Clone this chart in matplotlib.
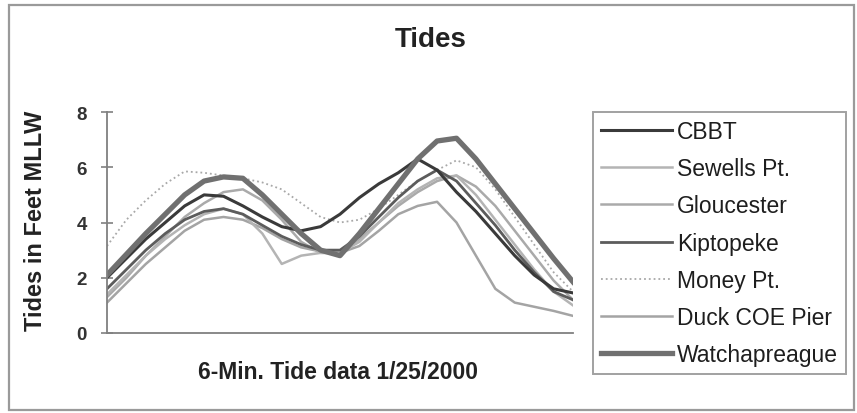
import matplotlib
matplotlib.use("Agg")
import matplotlib.pyplot as plt
from matplotlib.patches import Rectangle

plt.rcParams['font.family'] = ['Liberation Sans', 'DejaVu Sans']

# hours of 1/25/2000 (readings taken roughly once per hour from the 6-min series)
hours = list(range(25))

cbbt = [2.0, 2.7, 3.4, 4.0, 4.6, 5.0, 4.95, 4.6, 4.2, 3.85, 3.7, 3.85, 4.3,
        4.9, 5.4, 5.8, 6.3, 5.9, 5.1, 4.4, 3.6, 2.8, 2.1, 1.6, 1.45]
sewells = [1.4, 2.1, 2.8, 3.4, 3.9, 4.3, 4.5, 4.3, 3.6, 2.5, 2.8, 2.9, 2.9,
           3.3, 4.0, 4.7, 5.2, 5.6, 5.7, 5.0, 4.1, 3.2, 2.3, 1.5, 1.0]
gloucester = [1.3, 2.0, 2.8, 3.5, 4.2, 4.7, 5.1, 5.2, 4.8, 4.1, 3.3, 2.9, 2.9,
              3.4, 4.0, 4.6, 5.1, 5.5, 5.7, 5.3, 4.6, 3.7, 2.8, 1.9, 1.2]
kiptopeke = [1.6, 2.3, 3.0, 3.6, 4.1, 4.4, 4.5, 4.3, 3.9, 3.5, 3.2, 3.0, 3.0,
             3.5, 4.2, 4.9, 5.5, 5.9, 5.5, 4.7, 3.9, 3.0, 2.2, 1.5, 1.2]
money = [3.15, 4.1, 4.8, 5.4, 5.85, 5.8, 5.7, 5.6, 5.45, 5.2, 4.7, 4.2, 4.0,
         4.1, 4.5, 5.0, 5.5, 5.9, 6.25, 6.0, 5.2, 4.2, 3.2, 2.2, 1.5]
duck = [1.1, 1.8, 2.5, 3.1, 3.7, 4.1, 4.2, 4.1, 3.8, 3.4, 3.1, 2.95, 2.9,
        3.15, 3.7, 4.3, 4.6, 4.75, 4.0, 2.8, 1.6, 1.1, 0.95, 0.8, 0.62]
watcha = [2.1, 2.85, 3.6, 4.3, 5.0, 5.5, 5.65, 5.6, 5.0, 4.3, 3.6, 3.0, 2.8,
          3.6, 4.5, 5.4, 6.3, 6.95, 7.05, 6.3, 5.4, 4.5, 3.6, 2.7, 1.85]

names = ["CBBT", "Sewells Pt.", "Gloucester", "Kiptopeke", "Money Pt.",
         "Duck COE Pier", "Watchapreague"]
series = [cbbt, sewells, gloucester, kiptopeke, money, duck, watcha]
colors = ["#3a3a3a", "#b4b4b4", "#aaaaaa", "#5c5c5c", "#a8a8a8", "#a4a4a4", "#707070"]
widths = [2.2, 1.8, 1.8, 2.0, 1.3, 1.8, 3.8]
styles = ["-", "-", "-", "-", ":", "-", "-"]

W, H = 857, 414
fig = plt.figure(figsize=(W / 100, H / 100), dpi=100)
fig.patch.set_facecolor("white")

# outer chart border
fig.add_artist(Rectangle((9 / W, 1 - 411 / H), (854 - 9) / W, (411 - 6) / H,
                         transform=fig.transFigure, fill=False,
                         edgecolor="#9a9a9a", linewidth=1.6))

ax = fig.add_axes([107 / W, 1 - 334 / H, (573 - 107) / W, (334 - 113) / H])
draw_order = [5, 2, 1, 4, 3, 0, 6]
lines = {}
for i in draw_order:
    ln, = ax.plot(hours, series[i], color=colors[i], lw=widths[i], ls=styles[i],
                  label=names[i], solid_joinstyle="round")
    lines[i] = ln

ax.set_xlim(0, 24)
ax.set_ylim(0, 8)
ax.set_yticks([0, 2, 4, 6, 8])
ax.set_xticks([])
for s in ["top", "right"]:
    ax.spines[s].set_visible(False)
for s in ["left", "bottom"]:
    ax.spines[s].set_color("#808080")
    ax.spines[s].set_linewidth(1.3)
ax.tick_params(axis="y", direction="inout", length=9, width=1.2, color="#808080",
               labelsize=13.5, pad=10)
for t in ax.get_yticklabels():
    t.set_fontweight("bold")
    t.set_color("#333333")

ax.set_ylabel("Tides in Feet MLLW", fontsize=17, fontweight="bold", color="#222222")
ax.yaxis.set_label_coords(47 / W, 1 - 221 / H, transform=fig.transFigure)

fig.text(431 / W, 1 - 40 / H, "Tides", ha="center", va="center", fontsize=20,
         fontweight="bold", color="#222222")
fig.text(338 / W, 1 - 373 / H, "6-Min. Tide data 1/25/2000", ha="center",
         va="center", fontsize=16.5, fontweight="bold", color="#222222")

handles = [lines[i] for i in range(7)]
leg = fig.legend(handles, names, loc="upper left",
                 bbox_to_anchor=(593 / W, 1 - 113 / H), bbox_transform=fig.transFigure,
                 frameon=True, fancybox=False, fontsize=16.5, handlelength=3.1,
                 handletextpad=0.22, labelspacing=0.62, borderpad=0.35,
                 borderaxespad=0.0)
leg.get_frame().set_edgecolor("#8a8a8a")
leg.get_frame().set_linewidth(1.4)
for t in leg.get_texts():
    t.set_color("#1e1e1e")

fig.savefig("out.png", dpi=100, facecolor="white")
